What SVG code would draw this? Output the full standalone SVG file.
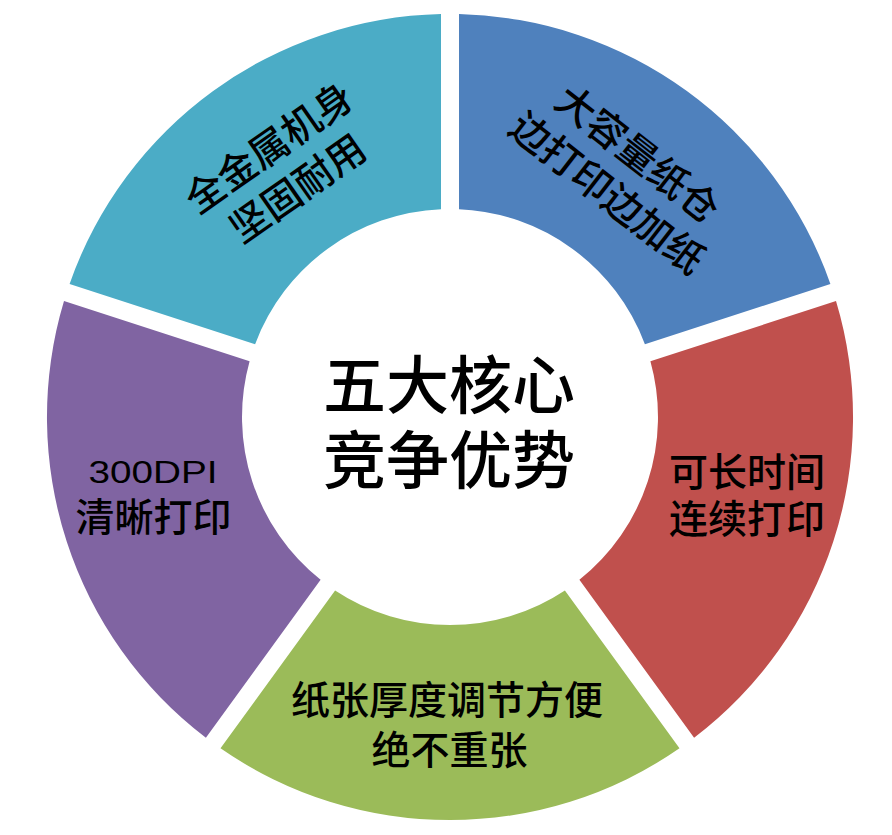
<svg xmlns="http://www.w3.org/2000/svg" width="892" height="835" viewBox="0 0 892 835">
<style>
.t{font-family:"Noto Sans CJK SC","Noto Sans CJK JP",sans-serif;font-size:39px;font-weight:500;fill:#000;text-anchor:middle}
.c{font-family:"Noto Sans CJK SC","Noto Sans CJK JP",sans-serif;font-size:63px;font-weight:500;fill:#000;text-anchor:middle}
.l{font-family:"Liberation Sans",Arial,sans-serif;font-size:32px;font-weight:400}
</style>
<rect width="892" height="835" fill="#fff"/>
<g id="seg-blue">
<path d="M459,14.1 A403,403 0 0 1 830.4,283.9 L644.9,344.2 A208,208 0 0 0 459,209.2 Z" fill="#4F81BD"/>
<g transform="translate(623,173) rotate(38)">
<text class="t" x="0" y="-10">大容量纸仓<tspan x="0" dy="49.5">边打印边加纸</tspan></text>
</g>
</g>
<g id="seg-red">
<path d="M836,301.1 A403,403 0 0 1 694.1,737.7 L579.4,579.8 A208,208 0 0 0 650.4,361.3 Z" fill="#C0504D"/>
<text class="t" x="747" y="485.5">可长时间<tspan x="747" dy="47">连续打印</tspan></text>
</g>
<g id="seg-green">
<path d="M679.5,748.3 A403,403 0 0 1 220.5,748.3 L335.1,590.4 A208,208 0 0 0 564.9,590.4 Z" fill="#9BBB59"/>
<text class="t" x="447" y="714">纸张厚度调节方便<tspan x="449.5" dy="50">绝不重张</tspan></text>
</g>
<g id="seg-purple">
<path d="M205.9,737.7 A403,403 0 0 1 64,301.1 L249.6,361.3 A208,208 0 0 0 320.6,579.8 Z" fill="#8064A2"/>
<text class="t" x="153" y="483"><tspan class="l" textLength="129" lengthAdjust="spacingAndGlyphs">300DPI</tspan><tspan x="153.5" dy="48">清晰打印</tspan></text>
</g>
<g id="seg-teal">
<path d="M69.6,283.9 A403,403 0 0 1 441,14.1 L441,209.2 A208,208 0 0 0 255.1,344.2 Z" fill="#4BACC6"/>
<g transform="translate(283,167.5) rotate(-35)">
<text class="t" x="0" y="-10">全金属机身<tspan x="0" dy="49.5">坚固耐用</tspan></text>
</g>
</g>
<g id="center">
<text class="c" x="449" y="407.5">五大核心<tspan x="449" dy="75.5">竞争优势</tspan></text>
</g>
</svg>
